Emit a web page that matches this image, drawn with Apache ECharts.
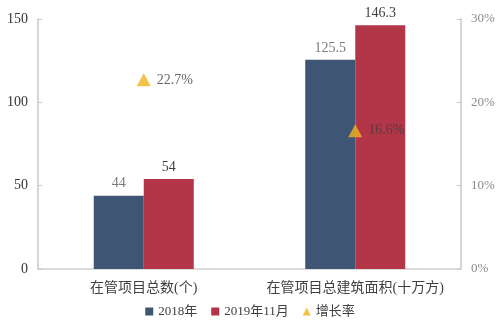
<!DOCTYPE html>
<html>
<head>
<meta charset="utf-8">
<script src="https://cdn.jsdelivr.net/npm/echarts@6/dist/echarts.min.js"></script>
<style>
  html, body { margin: 0; padding: 0; background: #fff; }
  #chart { width: 500px; height: 325px; }
</style>
</head>
<body>
<div id="chart"></div>
<script>
// Property management scale: project count and total floor area, with growth rate
const categories = ['在管项目总数(个)', '在管项目总建筑面积(十万方)'];
const values2018 = [44, 125.5];
const values2019 = [54, 146.3];
const growthRate = [22.7, 16.6];
const leftTicks = [0, 50, 100, 150];
const rightTicks = [0, 10, 20, 30];

const FONT = '"Liberation Serif", "DejaVu Serif", "Noto Sans CJK SC", serif';

const chart = echarts.init(document.getElementById('chart'));
chart.setOption({
  animation: false,
  textStyle: { fontFamily: FONT },
  grid: { left: 38, right: 39, top: 19, bottom: 56 },
  legend: {
    bottom: 2,
    left: 'center',
    itemWidth: 8,
    itemHeight: 8,
    itemGap: 14,
    textStyle: { fontFamily: FONT, fontSize: 13, color: '#404040' },
    data: [
      { name: '2018年', icon: 'rect' },
      { name: '2019年11月', icon: 'rect' },
      { name: '增长率', icon: 'triangle' }
    ]
  },
  xAxis: {
    type: 'category',
    data: categories,
    axisLine: { lineStyle: { color: '#d0d0d0', width: 1.5 } },
    axisTick: { show: false },
    axisLabel: { interval: 0, fontFamily: FONT, fontSize: 14, color: '#404040', margin: 12 }
  },
  yAxis: [
    {
      type: 'value',
      min: leftTicks[0],
      max: leftTicks[leftTicks.length - 1],
      interval: 50,
      splitLine: { show: false },
      axisLine: { show: true, lineStyle: { color: '#c8c8c8', width: 1.5 } },
      axisTick: { show: true, inside: true, length: 4, lineStyle: { color: '#c8c8c8' } },
      axisLabel: { fontFamily: FONT, fontSize: 14, color: '#333', margin: 10 }
    },
    {
      type: 'value',
      min: rightTicks[0],
      max: rightTicks[rightTicks.length - 1],
      interval: 10,
      splitLine: { show: false },
      axisLine: { show: true, lineStyle: { color: '#c8c8c8', width: 1.5 } },
      axisTick: { show: true, inside: true, length: 4, lineStyle: { color: '#c8c8c8' } },
      axisLabel: { fontFamily: FONT, fontSize: 13, color: '#8a8a8a', margin: 10, formatter: '{value}%' }
    }
  ],
  series: [
    {
      name: '2018年',
      type: 'bar',
      data: values2018,
      barWidth: 50,
      barGap: '0%',
      itemStyle: { color: '#3e5573' },
      label: { show: true, position: 'top', distance: 5, fontFamily: FONT, fontSize: 14, color: '#7a7a7a' }
    },
    {
      name: '2019年11月',
      type: 'bar',
      data: values2019,
      barWidth: 50,
      itemStyle: { color: '#b23548' },
      label: { show: true, position: 'top', distance: 5, fontFamily: FONT, fontSize: 14, color: '#404040' }
    },
    {
      name: '增长率',
      type: 'scatter',
      yAxisIndex: 1,
      data: growthRate,
      symbol: 'triangle',
      symbolSize: [14, 13],
      itemStyle: { color: '#f1b11b' },
      label: {
        show: true,
        position: 'right',
        distance: 6,
        fontFamily: FONT,
        fontSize: 14,
        color: '#404040',
        formatter: p => p.value.toFixed(1) + '%'
      }
    }
  ]
});
</script>
</body>
</html>
